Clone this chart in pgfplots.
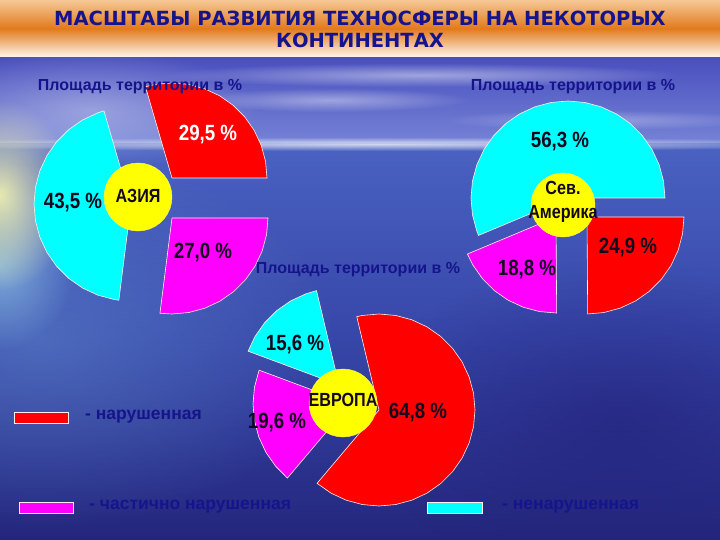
\documentclass[border=0pt]{standalone}
\usepackage{pgfplots}
\pgfplotsset{compat=1.18}
\usetikzlibrary{fadings}
\tikzfading[name=glow, inner color=transparent!0, outer color=transparent!100]
\usepackage{fontspec}
\setmainfont{Liberation Sans}
\newfontfamily\narrow[FakeStretch=0.85]{Liberation Sans}
\newfontfamily\titlefont{DejaVu Sans}
\definecolor{navy}{RGB}{22,20,140}
\definecolor{labdark}{RGB}{20,8,30}
\definecolor{cyanx}{RGB}{0,255,255}
\definecolor{magx}{RGB}{255,0,255}
\definecolor{redx}{RGB}{255,0,0}
\definecolor{yelx}{RGB}{255,255,0}
\definecolor{glowcyan}{RGB}{150,205,232}
\definecolor{glowyel}{RGB}{240,240,175}
\definecolor{glowsea}{RGB}{95,135,205}
\definecolor{deepsea}{RGB}{34,30,120}
\definecolor{skytop}{RGB}{72,78,190}
\definecolor{skybot}{RGB}{118,132,214}
\definecolor{seatop}{RGB}{74,98,194}
\definecolor{seamid}{RGB}{54,70,168}
\definecolor{seabot}{RGB}{36,38,124}
\definecolor{bartop}{RGB}{246,200,150}
\definecolor{barmid}{RGB}{226,122,28}
\definecolor{barbot}{RGB}{255,246,236}
\begin{document}
\begin{tikzpicture}
\begin{axis}[
  scale only axis, width=720pt, height=540pt,
  xmin=0, xmax=720, ymin=0, ymax=540,
  hide axis, clip=true,
  slice/.style={draw=white!75!pink, line width=0.6pt, data cs=polar},
  hole/.style={fill=yelx, draw=yelx!70!white, line width=0.4pt, data cs=polar},
]
% ---------- background (sea photo) ----------
\fill[top color=skytop, bottom color=skybot] (axis cs:0,395) rectangle (axis cs:720,485);
\fill[top color=seatop, bottom color=seabot, middle color=seamid] (axis cs:0,0) rectangle (axis cs:720,396);
\fill[glowsea, path fading=glow, fill opacity=0.55] (axis cs:40,200) ellipse [x radius=300pt, y radius=190pt];
\fill[deepsea, path fading=glow, fill opacity=0.55] (axis cs:620,120) ellipse [x radius=260pt, y radius=160pt];
\fill[white, path fading=glow, fill opacity=0.75] (axis cs:380,396) ellipse [x radius=520pt, y radius=7pt];
\fill[white, path fading=glow, fill opacity=0.45] (axis cs:420,465) ellipse [x radius=260pt, y radius=12pt];
\fill[white, path fading=glow, fill opacity=0.40] (axis cs:330,440) ellipse [x radius=140pt, y radius=12pt];
\fill[white, path fading=glow, fill opacity=0.35] (axis cs:90,430) ellipse [x radius=170pt, y radius=60pt];
\fill[white, path fading=glow, fill opacity=0.30] (axis cs:600,420) ellipse [x radius=160pt, y radius=10pt];
\fill[glowcyan, path fading=glow, fill opacity=0.7] (axis cs:0,275) ellipse [x radius=75pt, y radius=85pt];
\fill[glowyel, path fading=glow, fill opacity=0.95] (axis cs:0,345) ellipse [x radius=75pt, y radius=95pt];
% ---------- title bar ----------
\fill[top color=bartop, bottom color=barbot, middle color=barmid] (axis cs:0,483) rectangle (axis cs:720,540);
% ---------- ASIA ----------
\addplot[slice, fill=redx, xshift=172pt, yshift=362pt] coordinates {
 (0,0) (0,95) (10,95) (20,95) (30,95) (40,95) (50,95) (60,95) (70,95) (80,95) (90,95) (100,95) (106.2,95) (0,0)};
\addplot[slice, fill=magx, xshift=172pt, yshift=322pt] coordinates {
 (0,0) (-97.2,96) (-90,96) (-80,96) (-70,96) (-60,96) (-50,96) (-40,96) (-30,96) (-20,96) (-10,96) (0,96) (0,0)};
\addplot[slice, fill=cyanx, xshift=131pt, yshift=336pt] coordinates {
 (0,0) (106.2,97) (110,97) (120,97) (130,97) (140,97) (150,97) (160,97) (170,97) (180,97) (190,97) (200,97) (210,97) (220,97) (230,97) (240,97) (250,97) (260,97) (262.8,97) (0,0)};
\addplot[hole, xshift=138pt, yshift=343pt] coordinates {
 (0,34) (10,34) (20,34) (30,34) (40,34) (50,34) (60,34) (70,34) (80,34) (90,34) (100,34) (110,34) (120,34) (130,34) (140,34) (150,34) (160,34) (170,34) (180,34) (190,34) (200,34) (210,34) (220,34) (230,34) (240,34) (250,34) (260,34) (270,34) (280,34) (290,34) (300,34) (310,34) (320,34) (330,34) (340,34) (350,34) (360,34)};
% ---------- NORTH AMERICA ----------
\addplot[slice, fill=cyanx, xshift=568pt, yshift=342pt] coordinates {
 (0,0) (0,97) (10,97) (20,97) (30,97) (40,97) (50,97) (60,97) (70,97) (80,97) (90,97) (100,97) (110,97) (120,97) (130,97) (140,97) (150,97) (160,97) (170,97) (180,97) (190,97) (200,97) (202.7,97) (0,0)};
\addplot[slice, fill=magx, xshift=556pt, yshift=323pt] coordinates {
 (0,0) (202.7,96) (210,96) (220,96) (230,96) (240,96) (250,96) (260,96) (270,96) (270.4,96) (0,0)};
\addplot[slice, fill=redx, xshift=587pt, yshift=323pt] coordinates {
 (0,0) (270.4,97) (280,97) (290,97) (300,97) (310,97) (320,97) (330,97) (340,97) (350,97) (360,97) (0,0)};
\addplot[hole, xshift=563pt, yshift=335pt] coordinates {
 (0,32) (10,32) (20,32) (30,32) (40,32) (50,32) (60,32) (70,32) (80,32) (90,32) (100,32) (110,32) (120,32) (130,32) (140,32) (150,32) (160,32) (170,32) (180,32) (190,32) (200,32) (210,32) (220,32) (230,32) (240,32) (250,32) (260,32) (270,32) (280,32) (290,32) (300,32) (310,32) (320,32) (330,32) (340,32) (350,32) (360,32)};
% ---------- EUROPE ----------
\addplot[slice, fill=redx, xshift=379pt, yshift=130pt] coordinates {
 (0,0) (-130.2,96) (-120,96) (-110,96) (-100,96) (-90,96) (-80,96) (-70,96) (-60,96) (-50,96) (-40,96) (-30,96) (-20,96) (-10,96) (0,96) (10,96) (20,96) (30,96) (40,96) (50,96) (60,96) (70,96) (80,96) (90,96) (100,96) (103.4,96) (0,0)};
\addplot[slice, fill=cyanx, xshift=339pt, yshift=155pt] coordinates {
 (0,0) (103.4,97) (110,97) (120,97) (130,97) (140,97) (150,97) (159.6,97) (0,0)};
\addplot[slice, fill=magx, xshift=350pt, yshift=136pt] coordinates {
 (0,0) (159.6,97) (170,97) (180,97) (190,97) (200,97) (210,97) (220,97) (229.8,97) (0,0)};
\addplot[hole, xshift=343pt, yshift=137pt] coordinates {
 (0,34) (10,34) (20,34) (30,34) (40,34) (50,34) (60,34) (70,34) (80,34) (90,34) (100,34) (110,34) (120,34) (130,34) (140,34) (150,34) (160,34) (170,34) (180,34) (190,34) (200,34) (210,34) (220,34) (230,34) (240,34) (250,34) (260,34) (270,34) (280,34) (290,34) (300,34) (310,34) (320,34) (330,34) (340,34) (350,34) (360,34)};
% ---------- texts ----------
\node[font=\titlefont\bfseries\fontsize{19.5}{21}\selectfont, text=navy] at (axis cs:360,522) {МАСШТАБЫ РАЗВИТИЯ ТЕХНОСФЕРЫ НА НЕКОТОРЫХ};
\node[font=\titlefont\bfseries\fontsize{19.5}{21}\selectfont, text=navy] at (axis cs:360,500) {КОНТИНЕНТАХ};
\tikzset{sub/.style={font=\bfseries\fontsize{16}{18}\selectfont, text=navy}}
\node[sub] at (axis cs:140,453) {Площадь территории в \%};
\node[sub] at (axis cs:573,453) {Площадь территории в \%};
\node[sub] at (axis cs:358,270) {Площадь территории в \%};
\tikzset{pct/.style={font=\narrow\bfseries\fontsize{22}{24}\selectfont, text=labdark}}
\tikzset{reg/.style={font=\narrow\bfseries\fontsize{19}{20}\selectfont, text=labdark}}
\node[pct, text=white] at (axis cs:208,405) {29,5 \%};
\node[pct] at (axis cs:203,287) {27,0 \%};
\node[pct] at (axis cs:73,337) {43,5 \%};
\node[reg] at (axis cs:138,344) {АЗИЯ};
\node[pct] at (axis cs:560,398) {56,3 \%};
\node[pct] at (axis cs:628,292) {24,9 \%};
\node[pct] at (axis cs:527,270) {18,8 \%};
\node[reg] at (axis cs:563,352) {Сев.};
\node[reg] at (axis cs:563,326) {Америка};
\node[pct] at (axis cs:295,195) {15,6 \%};
\node[pct] at (axis cs:277,117) {19,6 \%};
\node[pct] at (axis cs:418,127) {64,8 \%};
\node[reg] at (axis cs:343,140) {ЕВРОПА};
% ---------- legend ----------
\tikzset{leg/.style={font=\bfseries\fontsize{17.5}{19}\selectfont, text=navy, anchor=west, inner sep=0pt}}
\fill[redx, draw=white!70!pink, line width=0.6pt] (axis cs:14,117) rectangle (axis cs:68,128);
\node[leg] at (axis cs:85,123) {- нарушенная};
\fill[magx, draw=white!70!pink, line width=0.6pt] (axis cs:19,27) rectangle (axis cs:73,38);
\node[leg] at (axis cs:89,33) {- частично нарушенная};
\fill[cyanx, draw=white!70!pink, line width=0.6pt] (axis cs:427,27) rectangle (axis cs:482,38);
\node[leg] at (axis cs:502,33) {- ненарушенная};
\end{axis}
\end{tikzpicture}
\end{document}
